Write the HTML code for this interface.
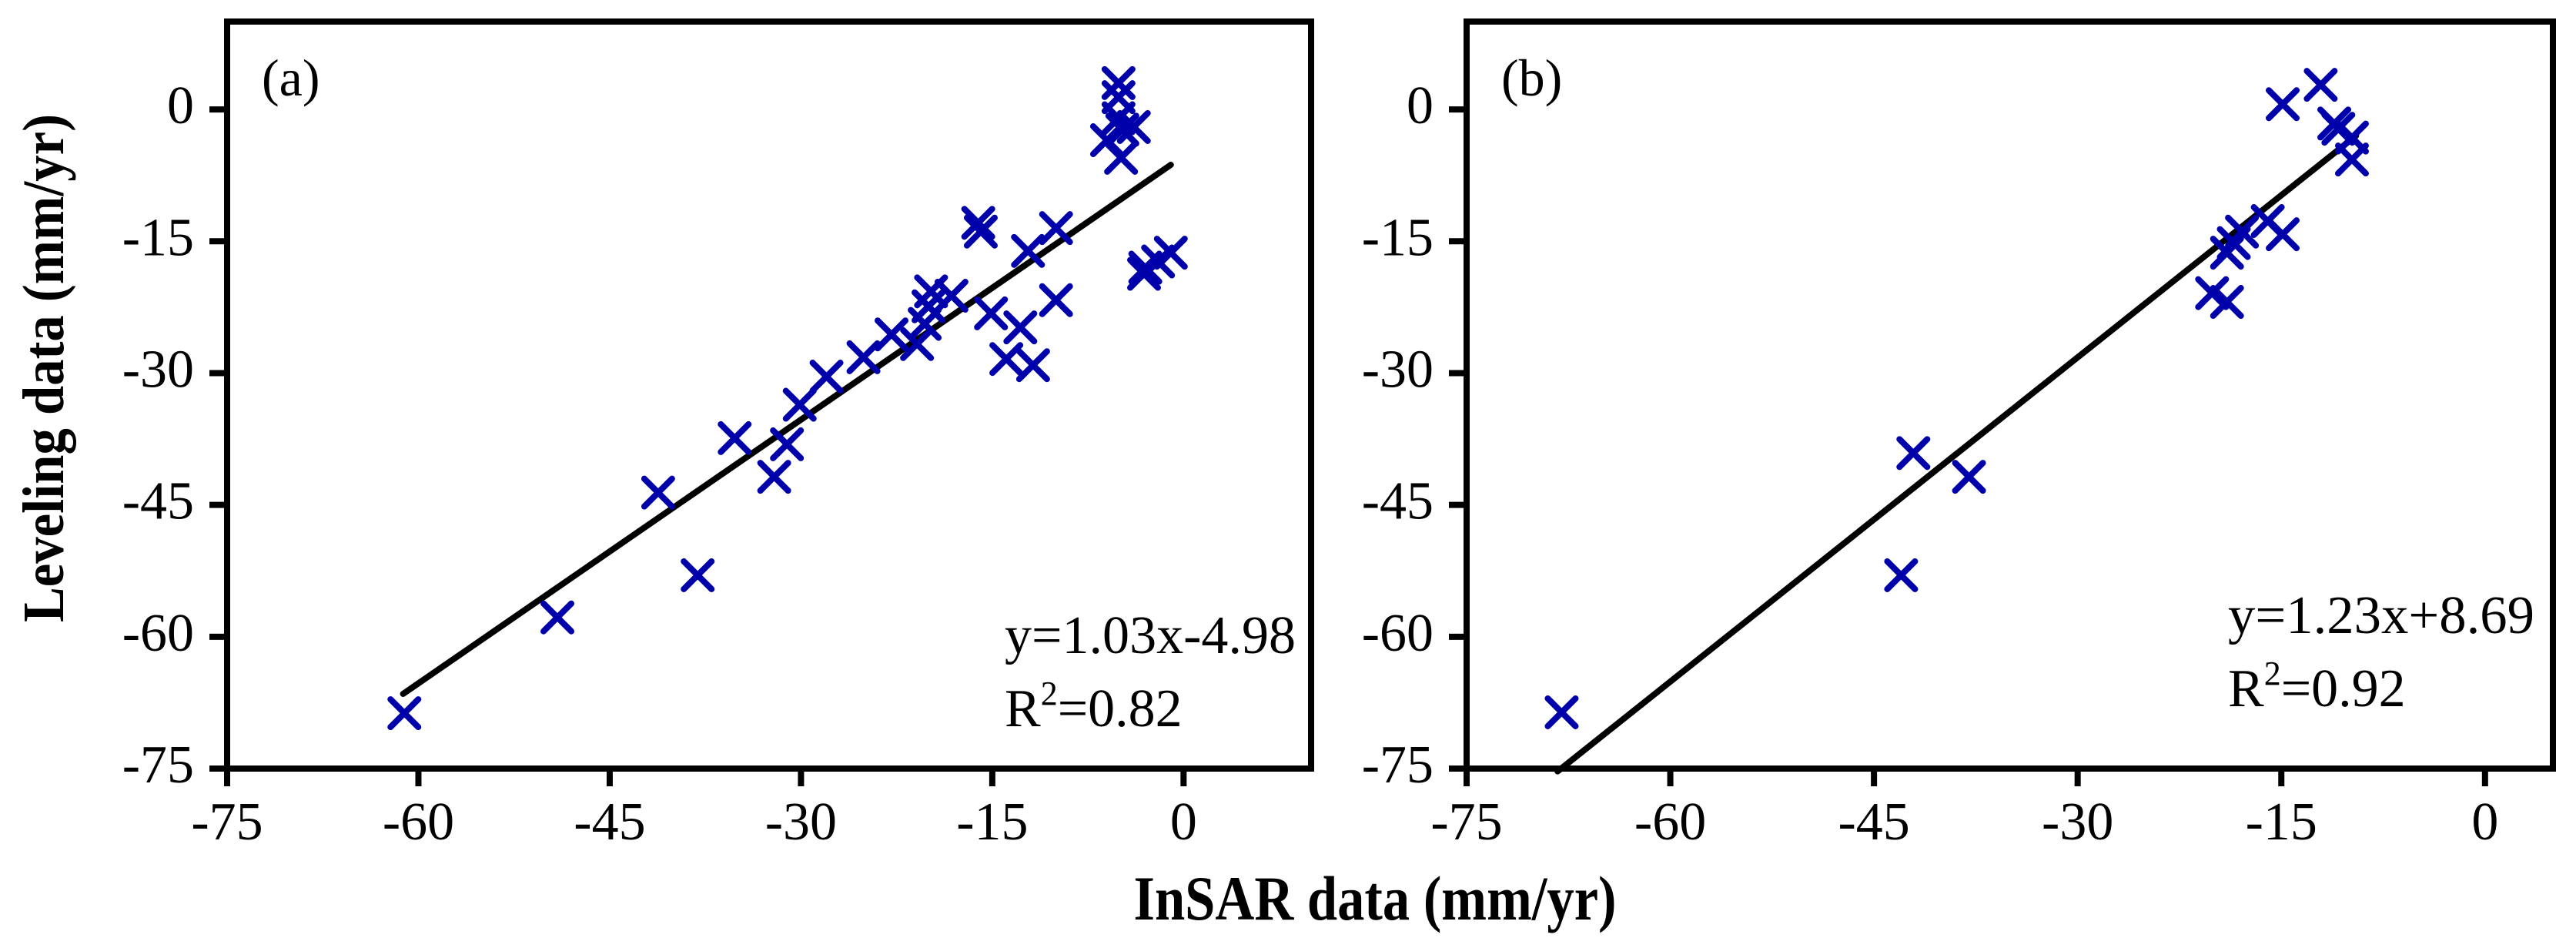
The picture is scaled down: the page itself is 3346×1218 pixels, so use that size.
<!DOCTYPE html>
<html><head><meta charset="utf-8"><style>
html,body{margin:0;padding:0;background:#fff;}
svg{display:block;font-family:"Liberation Serif",serif;}
</style></head><body>
<svg id="chart" width="3346" height="1218" viewBox="0 0 3346 1218" xmlns="http://www.w3.org/2000/svg">
<text transform="translate(82,478) rotate(-90)" text-anchor="middle" font-weight="bold" font-size="76" textLength="660" lengthAdjust="spacingAndGlyphs">Leveling data (mm/yr)</text>
<text x="1786" y="1194" text-anchor="middle" font-weight="bold" font-size="82" textLength="627" lengthAdjust="spacingAndGlyphs">InSAR data (mm/yr)</text>
</svg>
<script>
// Panel (a) data
const aInsar = [-61.1,-49.1,-41.2,-38.1,-35.2,-32.1,-31.1,-30.1,-28.0,-25.1,-22.9,-20.9,-20.3,-20.0,-19.8,-18.2,-16.1,-15.9,-15.1,-13.9,-12.8,-12.2,-11.8,-10.0,-10.0,-6.0,-5.1,-5.1,-5.1,-4.9,-4.8,-3.9,-3.1,-3.0,-2.0,-1.0];
const aLevel = [-68.7,-57.8,-43.6,-53.0,-37.4,-41.8,-38.1,-33.6,-30.4,-28.2,-25.6,-26.7,-24.4,-22.4,-20.7,-21.2,-12.9,-13.9,-23.2,-28.4,-24.8,-16.1,-29.1,-13.5,-21.7,-3.5,3.0,1.4,-1.0,-5.5,-2.3,-2.0,-18.7,-18.0,-17.3,-16.3];
const aFit = [1.0, -5.3];
const aFitRange = [-61.2, -1.0];
// Panel (b) data
const bInsar = [-68.0,-43.0,-42.1,-38.0,-20.1,-19.0,-19.0,-18.5,-17.9,-16.0,-14.9,-14.9,-12.1,-11.1,-10.8,-9.8,-9.8];
const bLevel = [-68.6,-53.0,-39.1,-41.8,-20.9,-21.9,-16.3,-15.2,-13.9,-12.7,-14.2,0.6,2.8,-1.6,-2.2,-3.2,-5.7];
const bFit = [1.23, 8.69];
const bFitRange = [-68.3, -9.5];
// ticks
const tickVals = [-75,-60,-45,-30,-15,0];

const NS = "http://www.w3.org/2000/svg";
const svg = document.getElementById('chart');
function mk(tag, attrs, parent){const e=document.createElementNS(NS,tag);for(const k in attrs)e.setAttribute(k,attrs[k]);(parent||svg).appendChild(e);return e;}

function panel(p){
  const g = mk('g',{});
  
  
  const sx = v => p.x0 + (v - p.xmin)/(p.xmax - p.xmin)*(p.x1 - p.x0);
  const sy = v => p.y1 - (v - p.ymin)/(p.ymax - p.ymin)*(p.y1 - p.y0);
  const frame = mk('rect',{x:p.x0,y:p.y0,width:p.x1-p.x0,height:p.y1-p.y0,fill:'none',stroke:'#000','stroke-width':8},g);
  
  
  tickVals.forEach(v=>{
    const X = sx(v);
    const t = mk('line',{x1:X,x2:X,y1:p.y1,y2:p.y1+23,stroke:'#000','stroke-width':8},g);
    
    
    const l = mk('text',{x:X,y:1090,'text-anchor':'middle','font-size':70},g);
    l.textContent = String(v);
    
    
    const Y = sy(v);
    const t2 = mk('line',{x1:p.x0-23,x2:p.x0,y1:Y,y2:Y,stroke:'#000','stroke-width':8},g);
    
    
    const l2 = mk('text',{x:p.x0-43,y:Y+18,'text-anchor':'end','font-size':70},g);
    l2.textContent = String(v);
    
    
  });
  const fx0 = p.fitRange[0], fx1 = p.fitRange[1];
  const fit = mk('line',{x1:sx(fx0),y1:sy(p.fit[0]*fx0+p.fit[1]),x2:sx(fx1),y2:sy(p.fit[0]*fx1+p.fit[1]),stroke:'#000','stroke-width':8,'stroke-linecap':'round'},g);
  
  
  const h = 18;
  p.xs.forEach((xv,i)=>{
    const X = sx(xv), Y = sy(p.ys[i]);
    const m = mk('path',{d:`M${X-h},${Y-h}L${X+h},${Y+h}M${X-h},${Y+h}L${X+h},${Y-h}`,stroke:'#0000aa','stroke-width':8,'stroke-linecap':'round',fill:'none'},g);
    
    
  });
  const lab = mk('text',{x:p.x0+45,y:124,'font-size':68},g);
  lab.textContent = p.label;
  
  
  const eq = mk('text',{x:p.eqX,y:p.eqY,'font-size':70,textLength:p.eqW,lengthAdjust:'spacingAndGlyphs'},g);
  eq.textContent = p.eq;
  
  
  const r2 = mk('text',{x:p.eqX,y:p.eqY+95,'font-size':70},g);
  r2.innerHTML = 'R<tspan dy="-28" font-size="44">2</tspan><tspan dy="28">=' + p.r2 + '</tspan>';
  
  
}
panel({name:'panel-a',x0:295,x1:1703,y0:28,y1:998,xmin:-75,xmax:10,ymin:-75,ymax:10,xs:aInsar,ys:aLevel,fit:aFit,fitRange:aFitRange,label:'(a)',eq:'y=1.03x-4.98',r2:'0.82',eqX:1305,eqY:848,eqW:378});
panel({name:'panel-b',x0:1905,x1:3316,y0:28,y1:998,xmin:-75,xmax:5,ymin:-75,ymax:10,xs:bInsar,ys:bLevel,fit:bFit,fitRange:bFitRange,label:'(b)',eq:'y=1.23x+8.69',r2:'0.92',eqX:2894,eqY:822,eqW:398});
</script>
</body></html>
